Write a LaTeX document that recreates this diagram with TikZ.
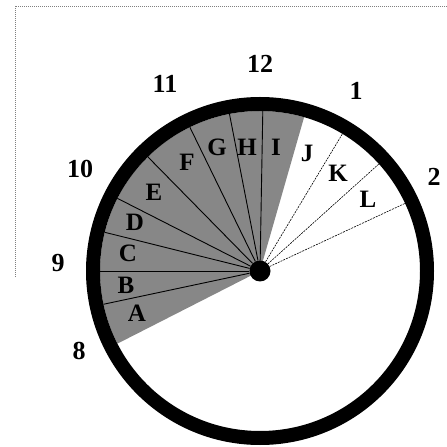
\documentclass[tikz,border=0pt]{standalone}
\usepackage{fontspec}
\setmainfont{Liberation Serif}
\usetikzlibrary{calc}
\tikzset{
  hour/.style={font=\fontsize{26}{30}\selectfont\bfseries},
  slot/.style={font=\fontsize{25}{30}\selectfont\bfseries},
  spoke/.style={line width=0.9pt,black},
  freespoke/.style={line width=0.6pt,black,dash pattern=on 2pt off 1pt}
}
\begin{document}
\begin{tikzpicture}[x=1pt,y=1pt]
\useasboundingbox (0,0) rectangle (447,447);
% page frame
\draw[line width=0.6pt,gray,dash pattern=on 1pt off 1pt] (447,441)--(15,441)--(15,169);
% used part of the dial
\fill[black!47] (260,176) -- ++(207:160) arc[start angle=207,end angle=74,radius=160] -- cycle;
\node[circle,fill=black,inner sep=0pt,minimum size=21pt] (hub) at (260,176) {};
\coordinate (rimA) at ($(260,176)+(192:160)$);
\coordinate (rimB) at ($(260,176)+(180:160)$);
\coordinate (rimC) at ($(260,176)+(166:160)$);
\coordinate (rimD) at ($(260,176)+(153:160)$);
\coordinate (rimE) at ($(260,176)+(134.5:160)$);
\coordinate (rimF) at ($(260,176)+(116:160)$);
\coordinate (rimG) at ($(260,176)+(101:160)$);
\coordinate (rimH) at ($(260,176)+(89:160)$);
\coordinate (rimJ) at ($(260,176)+(59:160)$);
\coordinate (rimK) at ($(260,176)+(42:160)$);
\coordinate (rimL) at ($(260,176)+(25:160)$);
\draw[spoke] (hub)--(rimA);
\draw[spoke] (hub)--(rimB);
\draw[spoke] (hub)--(rimC);
\draw[spoke] (hub)--(rimD);
\draw[spoke] (hub)--(rimE);
\draw[spoke] (hub)--(rimF);
\draw[spoke] (hub)--(rimG);
\draw[spoke] (hub)--(rimH);
\draw[freespoke] (hub)--(rimJ);
\draw[freespoke] (hub)--(rimK);
\draw[freespoke] (hub)--(rimL);
\draw[line width=14pt] (260,176) circle[radius=167];
% slot letters
\node[slot] (sA) at (137,134) {A};
\node[slot] (sB) at (126,162) {B};
\node[slot] (sC) at (128,194) {C};
\node[slot] (sD) at (135,225) {D};
\node[slot] (sE) at (154,255) {E};
\node[slot] (sF) at (187,285) {F};
\node[slot] (sG) at (217,300) {G};
\node[slot] (sH) at (247,300) {H};
\node[slot] (sI) at (276,300) {I};
\node[slot] (sJ) at (307,294) {J};
\node[slot] (sK) at (338,274) {K};
\node[slot] (sL) at (368,248) {L};
% hours
\node[hour] (h12) at (260,383) {12};
\node[hour] (h11) at (165,363) {11};
\node[hour] (h1) at (356,356) {1};
\node[hour] (h10) at (80,278) {10};
\node[hour] (h2) at (434,270) {2};
\node[hour] (h9) at (58,184) {9};
\node[hour] (h8) at (79,96) {8};
\end{tikzpicture}
\end{document}
